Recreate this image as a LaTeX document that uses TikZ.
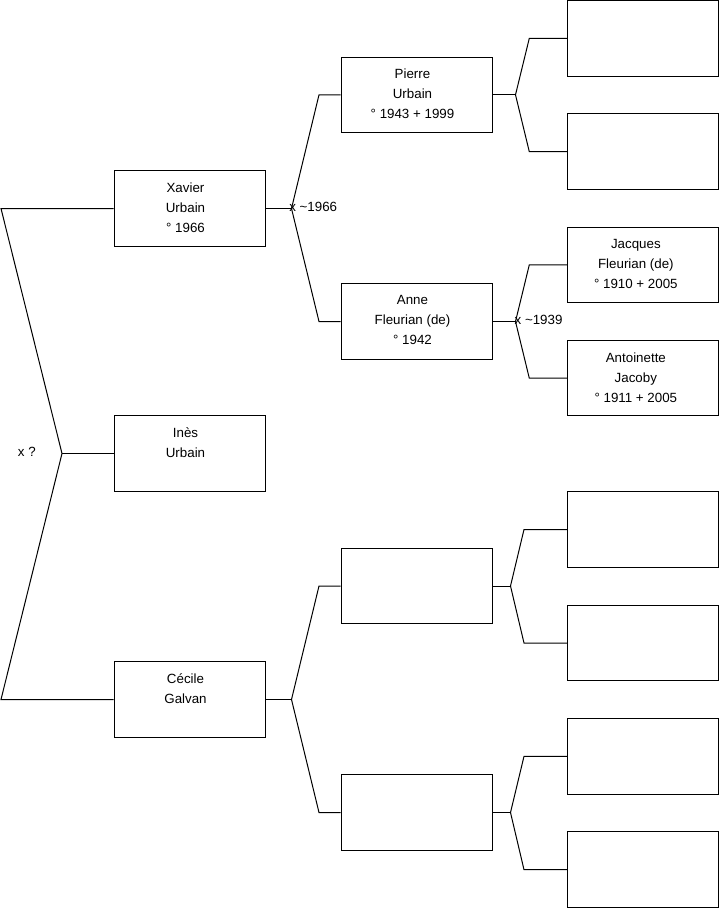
\documentclass[tikz,border=0pt]{standalone}
\usepackage{fontspec}
\setmainfont{Liberation Sans}
\usetikzlibrary{positioning,calc}

\begin{document}
\begin{tikzpicture}[x=0.75pt, y=-0.75pt, line width=0.75pt,
  pbox/.style={rectangle, draw, minimum width=113.25pt, minimum height=56.6pt, inner sep=0pt},
  ptext/.style={anchor=north, yshift=-9pt, xshift=-3pt, align=center, inner sep=0pt,
                font=\fontsize{10}{15}\selectfont},
  mtext/.style={anchor=base west, inner sep=0pt, font=\fontsize{10}{12}\selectfont}
]
\useasboundingbox (0,0) rectangle (719,908);

% Generation 1
\node[pbox, label={[ptext]north:Xavier\\Urbain\\° 1966}] (xavier) at (189.5,208.5) {};
\node[pbox, label={[ptext]north:Inès\\Urbain}]            (ines)   at (189.5,453.5) {};
\node[pbox, label={[ptext]north:Cécile\\Galvan}]          (cecile) at (189.5,699.5) {};

% Generation 2
\node[pbox, label={[ptext]north:Pierre\\Urbain\\° 1943 + 1999}] (pierre) at (416.5,94.8)  {};
\node[pbox, label={[ptext]north:Anne\\Fleurian (de)\\° 1942}]    (anne)   at (416.5,321.5) {};
\node[pbox] (cfather) at (416.5,586.0) {};
\node[pbox] (cmother) at (416.5,812.5) {};

% Generation 3
\node[pbox] (pfather) at (642.8,38.3)  {};
\node[pbox] (pmother) at (642.8,151.7) {};
\node[pbox, label={[ptext, xshift=-2.2pt]north:Jacques\\Fleurian (de)\\° 1910 + 2005}] (jacques)    at (642.8,264.8) {};
\node[pbox, label={[ptext, xshift=-2.2pt]north:Antoinette\\Jacoby\\° 1911 + 2005}]     (antoinette) at (642.8,378.2) {};
\node[pbox] (cffather) at (642.8,529.5) {};
\node[pbox] (cfmother) at (642.8,643.0) {};
\node[pbox] (cmfather) at (642.8,756.3) {};
\node[pbox] (cmmother) at (642.8,869.7) {};

% Junctions
\coordinate (lft)   at (1,0);
\coordinate (jroot) at (62,453.5);
\coordinate (jx)    at (291.5,208.5);
\coordinate (jc)    at (291.5,699.5);
\coordinate (jp)    at (515.5,94.8);
\coordinate (ja)    at (515.5,321.5);
\coordinate (jcf)   at (510.5,586.0);
\coordinate (jcm)   at (510.5,812.5);

% Siblings
\draw (xavier.west) -- (xavier.west -| lft) -- (jroot) -- (cecile.west -| lft) -- (cecile.west);
\draw (jroot) -- (ines.west);
\node[mtext] (mroot) at ([xshift=-33.4pt, yshift=-2.6pt]jroot) {x ?};

% Parents
\draw (xavier.east) -- (jx);
\draw (pierre.west) -- ++(-21.5,0) -- (jx) -- ($(anne.west)+(-21.5,0)$) -- (anne.west);
\node[mtext] (mx) at ([xshift=-2pt, yshift=-2.6pt]jx) {x \textasciitilde1966};

\draw (cecile.east) -- (jc);
\draw (cfather.west) -- ++(-21.5,0) -- (jc) -- ($(cmother.west)+(-21.5,0)$) -- (cmother.west);

% Grandparents
\draw (pierre.east) -- (jp);
\draw (pfather.west) -- ++(-37.5,0) -- (jp) -- ($(pmother.west)+(-37.5,0)$) -- (pmother.west);

\draw (anne.east) -- (ja);
\draw (jacques.west) -- ++(-37.5,0) -- (ja) -- ($(antoinette.west)+(-37.5,0)$) -- (antoinette.west);
\node[mtext] (ma) at ([xshift=-1pt, yshift=-2.6pt]ja) {x \textasciitilde1939};

\draw (cfather.east) -- (jcf);
\draw (cffather.west) -- ++(-42.8,0) -- (jcf) -- ($(cfmother.west)+(-42.8,0)$) -- (cfmother.west);

\draw (cmother.east) -- (jcm);
\draw (cmfather.west) -- ++(-42.8,0) -- (jcm) -- ($(cmmother.west)+(-42.8,0)$) -- (cmmother.west);
\end{tikzpicture}
\end{document}
